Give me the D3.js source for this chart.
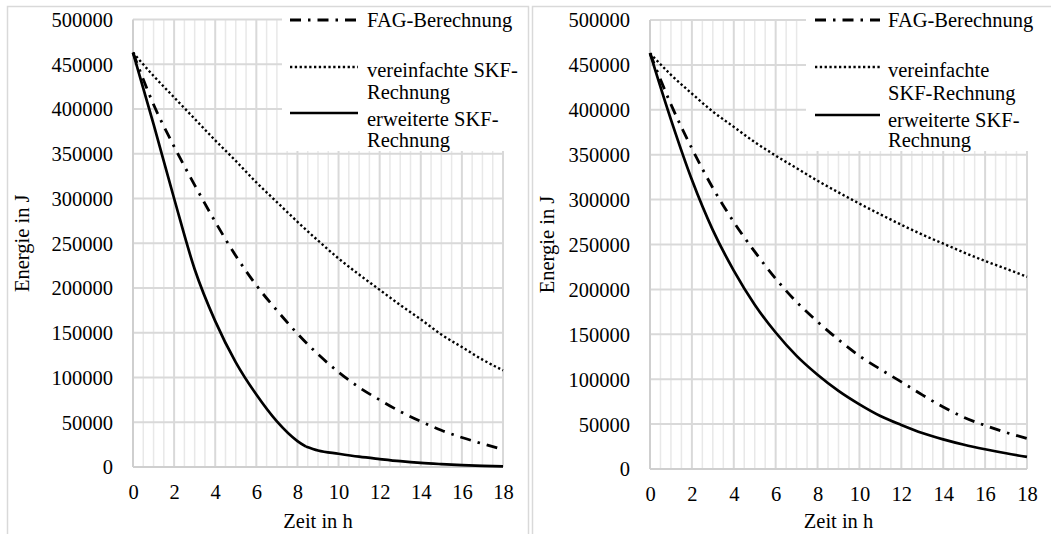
<!DOCTYPE html>
<html>
<head>
<meta charset="utf-8">
<script src="https://cdn.jsdelivr.net/npm/d3@7"></script>
<style>
  body { margin: 0; background: #fff; }
  svg { display: block; }
  svg text { font-family: "Liberation Serif", "Tinos", "Times New Roman", serif !important; fill: #000; }
</style>
</head>
<body>
<svg id="chart" width="1051" height="534" font-family="Liberation Serif"></svg>
<script>
// ---------------- data ----------------
const hours = [0,1,2,3,4,5,6,7,8,9,10,11,12,13,14,15,16,17,18];
const xTickValues = [0,2,4,6,8,10,12,14,16,18];
const yTickValues = [0,50000,100000,150000,200000,250000,300000,350000,400000,450000,500000];
const seriesNames = ["FAG-Berechnung", "vereinfachte SKF-Rechnung", "erweiterte SKF-Rechnung"];

// left chart
const leftFAG = [463000,405000,358000,315000,274000,236000,203000,175000,149000,126000,106000,89000,75000,62000,51000,41000,33000,26000,19500];
const leftSimpleSKF = [463000,437000,413000,389000,365000,342000,318000,296000,274000,253000,233000,215000,198000,181000,165000,148000,134000,120000,108000];
const leftExtHours = [0,1,2,3,4,5,6,7,8,8.4,9,10,11,12,13,14,15,16,17,18];
const leftExtSKF = [463000,383000,300000,221000,163000,117000,81000,51000,29000,23000,18500,14800,11500,8900,6500,4600,3200,2000,1200,700];
const leftExtBreakHour = 8.4;   // the curve changes regime (kink) here

// right chart
const rightFAG = [463000,406000,357000,313000,275000,242000,212000,186000,164000,144000,126000,111000,97000,82500,69000,57400,48500,40700,34000];
const rightSimpleSKF = [463000,439000,418000,398000,381000,364000,349000,335000,321000,308000,295500,283500,272000,261000,251000,241000,231600,223000,214000];
const rightExtSKF = [463000,389000,322000,266000,221000,183000,152000,126000,105000,87000,72000,59000,49000,40000,33000,27000,22000,17500,13500];

const leftLegendLabels = [["FAG-Berechnung"], ["vereinfachte SKF-", "Rechnung"], ["erweiterte SKF-", "Rechnung"]];
const rightLegendLabels = [["FAG-Berechnung"], ["vereinfachte", "SKF-Rechnung"], ["erweiterte SKF-", "Rechnung"]];

const xTitle = "Zeit in h";
const yTitle = "Energie in J";

// ---------------- styles ----------------
const FONT = "Liberation Serif";
const FS = 20.5;
const seriesStyle = [
  { dash: "11,7,2.5,7", width: 2.8 },   // FAG dash-dot
  { dash: "2.3,2.5", width: 2.4 },      // dotted
  { dash: null, width: 2.7 }            // solid
];

const svg = d3.select("#chart");

function drawPanel(p) {
  const g = svg.append("g");

  g.append("rect")
    .attr("x", p.border[0]).attr("y", p.border[1])
    .attr("width", p.border[2]).attr("height", p.border[3])
    .attr("fill", "#fff").attr("stroke", "#d9d9d9").attr("stroke-width", 1.5);

  const x = d3.scaleLinear().domain([0, 18]).range([p.left, p.right]);
  const y = d3.scaleLinear().domain([0, 500000]).range([p.bottom, p.top]);

  const minor = d3.range(0.5, 18, 0.5).filter(v => v % 2 !== 0);
  g.append("g").selectAll("line").data(minor).join("line")
    .attr("x1", d => x(d)).attr("x2", d => x(d))
    .attr("y1", y(0)).attr("y2", y(500000))
    .attr("stroke", "#e8e8e8").attr("stroke-width", 1.5);
  g.append("g").selectAll("line").data(xTickValues.filter(v => v > 0)).join("line")
    .attr("x1", d => x(d)).attr("x2", d => x(d))
    .attr("y1", y(0)).attr("y2", y(500000))
    .attr("stroke", "#d9d9d9").attr("stroke-width", 2);
  g.append("g").selectAll("line").data(yTickValues.filter(v => v > 0)).join("line")
    .attr("x1", x(0)).attr("x2", x(18))
    .attr("y1", d => y(d)).attr("y2", d => y(d))
    .attr("stroke", "#d9d9d9").attr("stroke-width", 2);
  g.append("line").attr("x1", x(0)).attr("x2", x(0)).attr("y1", y(0)).attr("y2", y(500000))
    .attr("stroke", "#cfcfcf").attr("stroke-width", 2);
  g.append("line").attr("x1", x(0)).attr("x2", x(18)).attr("y1", y(0)).attr("y2", y(0))
    .attr("stroke", "#cfcfcf").attr("stroke-width", 2);

  const xAxis = g.append("g").attr("transform", `translate(0,${p.bottom})`)
    .call(d3.axisBottom(x).tickValues(xTickValues).tickSize(0).tickPadding(0).tickFormat(d3.format("d")));
  xAxis.attr("font-family", FONT).attr("font-size", FS);
  xAxis.select(".domain").remove();
  xAxis.selectAll("text").attr("dy", null).attr("y", p.xLabelBase - p.bottom)
    .attr("fill", "#000").attr("font-family", FONT).attr("font-size", FS);

  const yAxis = g.append("g").attr("transform", `translate(${p.left},0)`)
    .call(d3.axisLeft(y).tickValues(yTickValues).tickSize(0).tickPadding(20).tickFormat(d3.format("d")));
  yAxis.attr("font-family", FONT).attr("font-size", FS);
  yAxis.select(".domain").remove();
  yAxis.selectAll("text").attr("dy", "0.34em")
    .attr("fill", "#000").attr("font-family", FONT).attr("font-size", FS);

  g.append("text").attr("x", (p.left + p.right) / 2).attr("y", p.xTitleBase)
    .attr("text-anchor", "middle").attr("font-family", FONT).attr("font-size", FS).text(xTitle);
  g.append("text")
    .attr("transform", `translate(${p.yTitleX},${(p.top + p.bottom) / 2}) rotate(-90)`)
    .attr("text-anchor", "middle").attr("font-family", FONT).attr("font-size", FS).text(yTitle);

  const extPts = p.extHours.map((h, i) => [h, p.ext[i]]);
  // split the extended series at its kink (if any) so the corner stays sharp
  const extSegments = p.extBreak == null ? [extPts]
    : [extPts.filter(d => d[0] <= p.extBreak), extPts.filter(d => d[0] >= p.extBreak)];

  const seriesSegments = [
    [hours.map((h, i) => [h, p.fag[i]])],
    [hours.map((h, i) => [h, p.simple[i]])],
    extSegments
  ];
  const line = d3.line().x(d => x(d[0])).y(d => y(d[1])).curve(d3.curveMonotoneX);
  seriesSegments.forEach((segs, i) => {
    const dPath = segs.map(s => line(s)).join("");
    g.append("path")
      .attr("d", dPath)
      .attr("fill", "none").attr("stroke", "#000")
      .attr("stroke-width", seriesStyle[i].width)
      .attr("stroke-linejoin", "round")
      .attr("stroke-dasharray", seriesStyle[i].dash);
  });

  const lg = g.append("g");
  lg.append("rect").attr("x", p.legBox[0]).attr("y", p.legBox[1])
    .attr("width", p.legBox[2]).attr("height", p.legBox[3]).attr("fill", "#fff");
  seriesNames.forEach((name, i) => {
    lg.append("line")
      .attr("x1", p.legSample[0]).attr("x2", p.legSample[1])
      .attr("y1", p.legSampleY[i]).attr("y2", p.legSampleY[i])
      .attr("stroke", "#000").attr("stroke-width", seriesStyle[i].width)
      .attr("stroke-dasharray", seriesStyle[i].dash);
    p.legLabels[i].forEach((txt, j) => {
      lg.append("text").attr("x", p.legTextX).attr("y", p.legBase[i][j])
        .attr("font-family", FONT).attr("font-size", FS).text(txt);
    });
  });
}

drawPanel({
  border: [7.5, 6.5, 521, 560],
  left: 133, right: 503, top: 19.5, bottom: 467,
  xLabelBase: 499, xTitleBase: 528, yTitleX: 29,
  fag: leftFAG, simple: leftSimpleSKF, ext: leftExtSKF, extHours: leftExtHours, extBreak: leftExtBreakHour,
  legBox: [282, 8, 245, 143],
  legSample: [290, 358], legSampleY: [20, 67, 113], legTextX: 367,
  legBase: [[27], [77, 99], [126, 147]],
  legLabels: leftLegendLabels
});

drawPanel({
  border: [532.5, 6.5, 560, 560],
  left: 650, right: 1027, top: 20, bottom: 469,
  xLabelBase: 501, xTitleBase: 528, yTitleX: 554,
  fag: rightFAG, simple: rightSimpleSKF, ext: rightExtSKF, extHours: hours, extBreak: null,
  legBox: [806, 8, 245, 143],
  legSample: [815, 880], legSampleY: [20, 67, 115], legTextX: 888,
  legBase: [[27], [77, 100], [127, 147]],
  legLabels: rightLegendLabels
});
</script>
</body>
</html>
